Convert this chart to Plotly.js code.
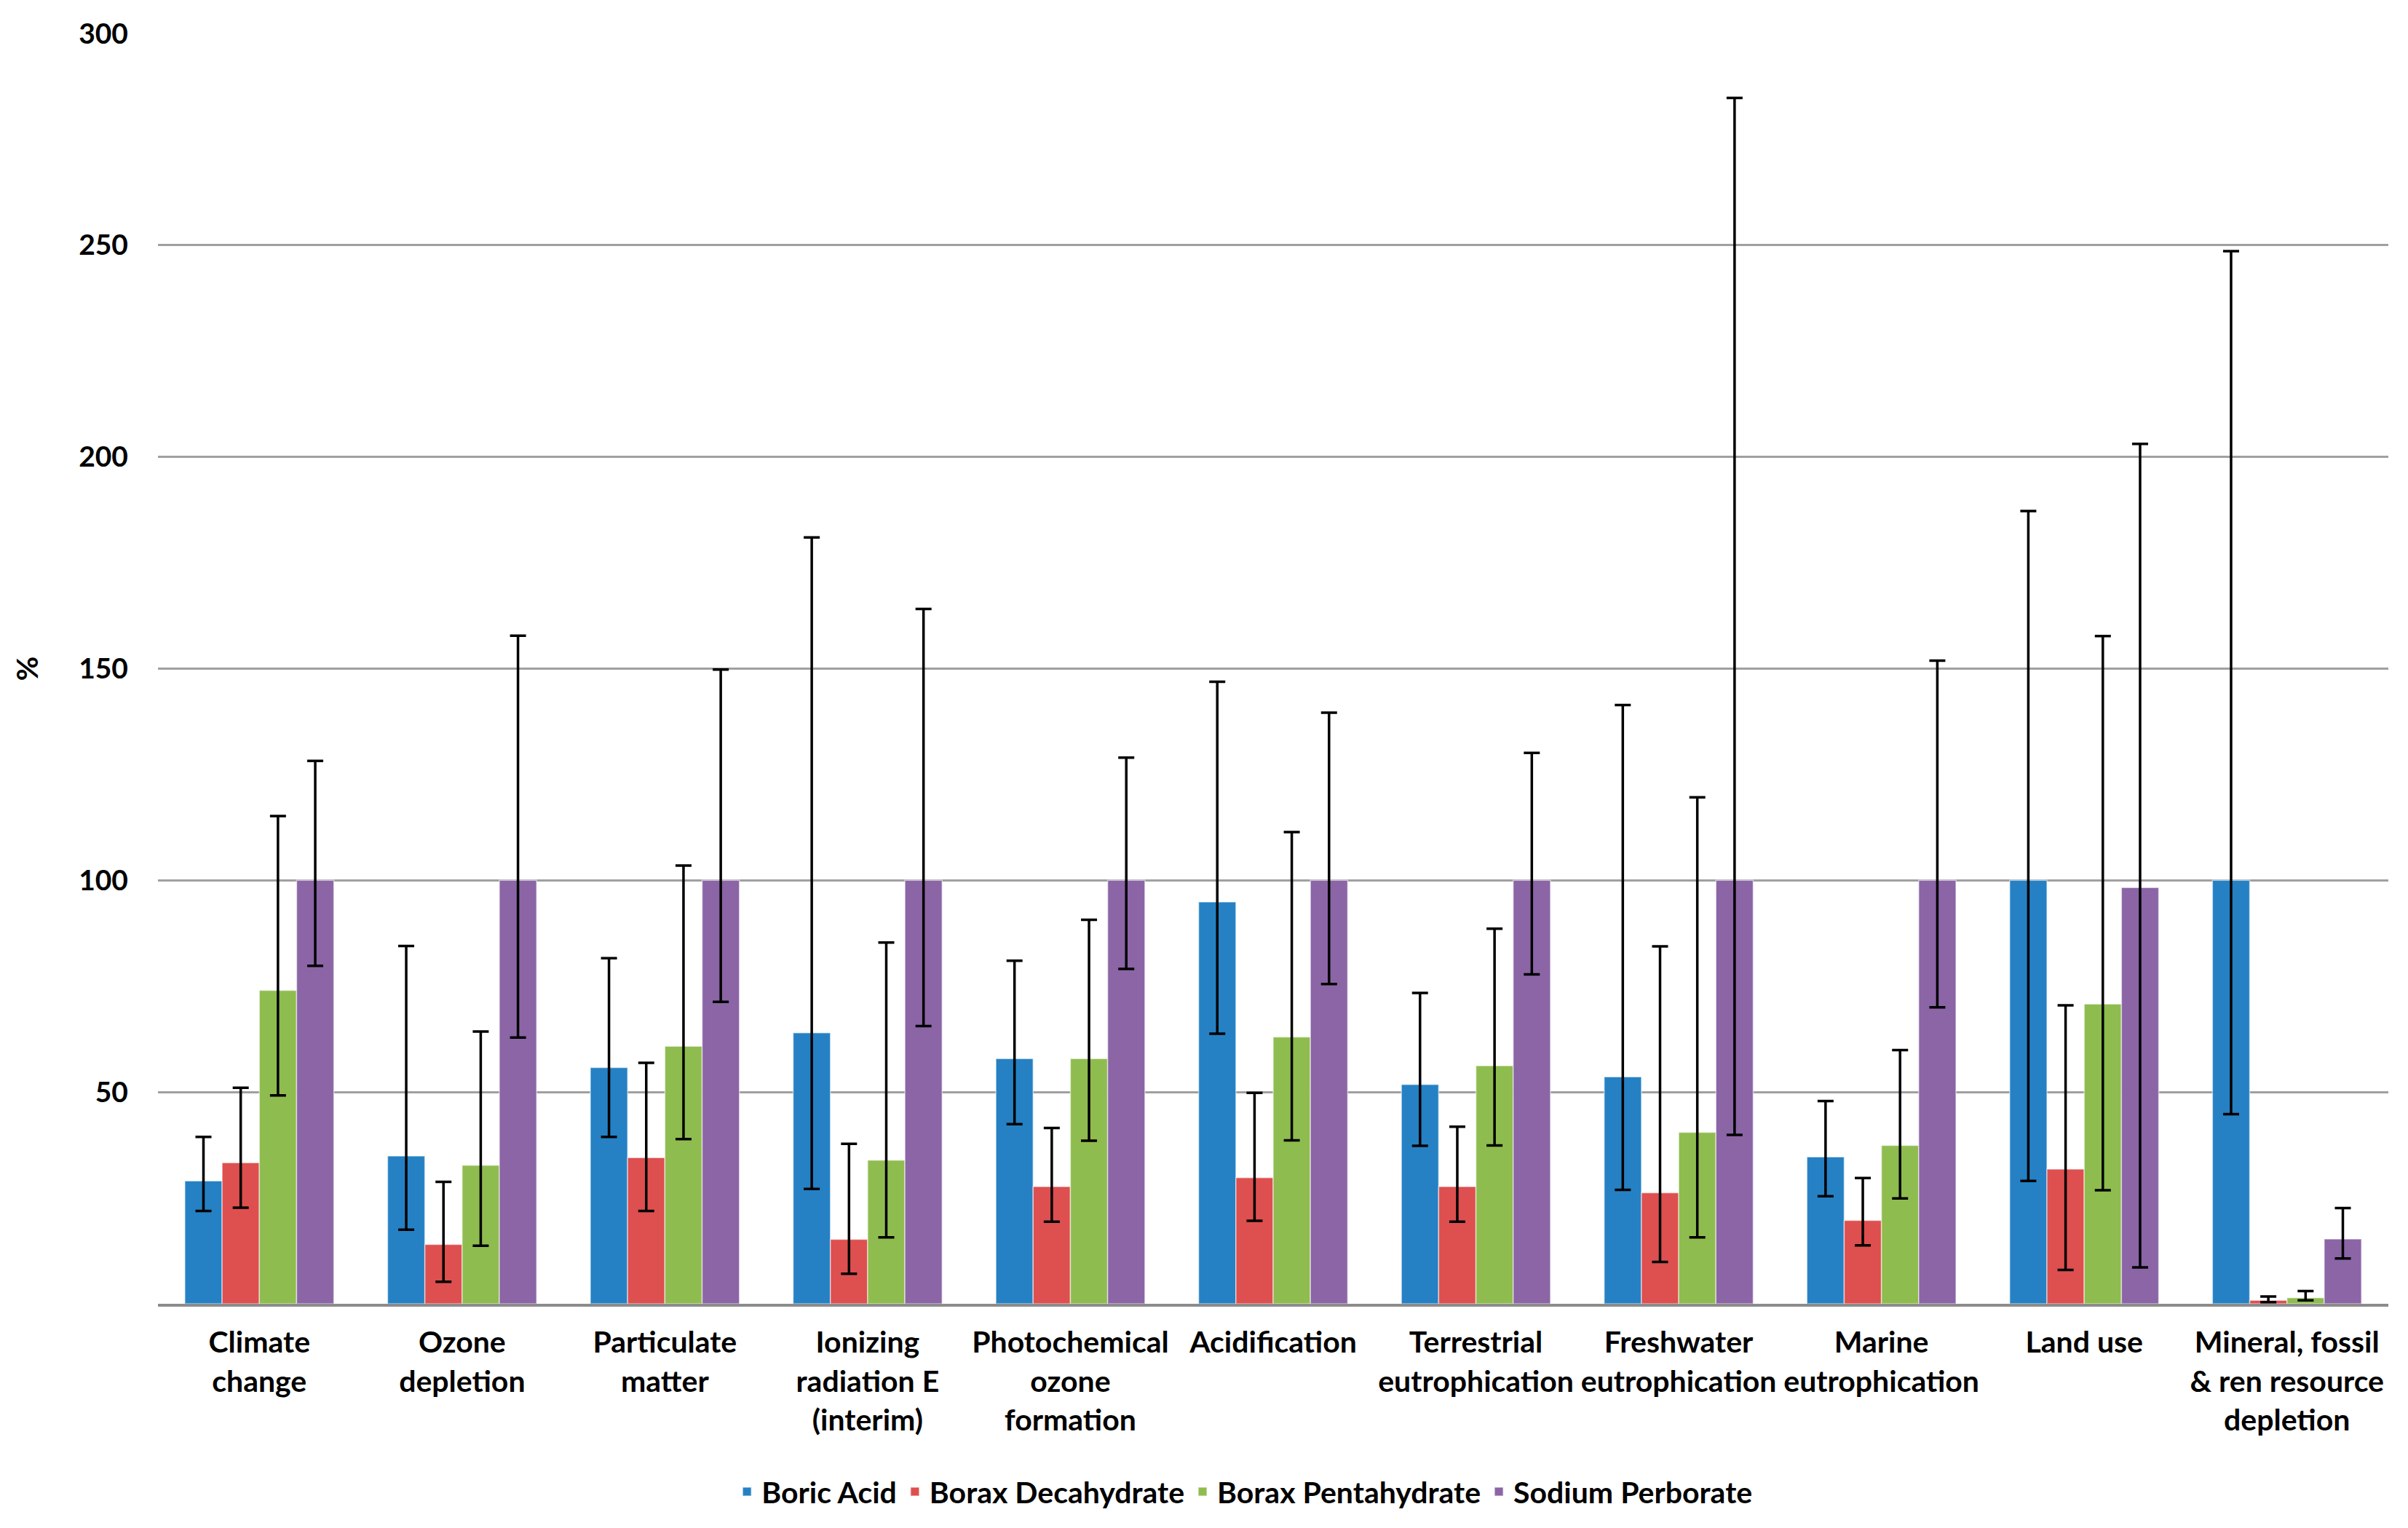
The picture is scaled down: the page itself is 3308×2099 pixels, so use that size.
<!DOCTYPE html>
<html>
<head>
<meta charset="utf-8">
<script src="https://cdn.plot.ly/plotly-3.0.1.min.js"></script>
<style>html,body{margin:0;padding:0;background:#fff;}#chart{width:3308px;height:2099px;}</style>
</head>
<body>
<div id="chart"></div>
<script>
const categories = [
  "Climate<br>change", "Ozone<br>depletion", "Particulate<br>matter",
  "Ionizing<br>radiation E<br>(interim)", "Photochemical<br>ozone<br>formation",
  "Acidification", "Terrestrial<br>eutrophication", "Freshwater<br>eutrophication",
  "Marine<br>eutrophication", "Land use", "Mineral, fossil<br>& ren resource<br>depletion"
];
const seriesNames = ["Boric Acid", "Borax Decahydrate", "Borax Pentahydrate", "Sodium Perborate"];

const boricAcid      = [29.0, 34.9, 55.8, 64.0, 57.9, 94.9, 51.8, 53.6, 34.7, 100, 100];
const boricAcidHigh  = [39.4, 84.5, 81.6, 181.0, 81.0, 146.9, 73.4, 141.4, 47.9, 187.2, 248.6];
const boricAcidLow   = [21.9, 17.5, 39.4, 27.1, 42.4, 63.8, 37.3, 26.9, 25.4, 29.0, 44.8];

const boraxDeca      = [33.3, 14.0, 34.5, 15.2, 27.7, 29.8, 27.7, 26.2, 19.7, 31.8, 0.8];
const boraxDecaHigh  = [51.0, 28.8, 56.9, 37.8, 41.5, 49.8, 41.8, 84.4, 29.7, 70.5, 1.7];
const boraxDecaLow   = [22.7, 5.2, 21.9, 7.1, 19.4, 19.6, 19.4, 9.9, 13.8, 8.0, 0.4];

const boraxPenta     = [74.0, 32.7, 60.8, 33.9, 57.9, 63.0, 56.2, 40.5, 37.4, 70.8, 1.4];
const boraxPentaHigh = [115.2, 64.3, 103.5, 85.3, 90.7, 111.4, 88.6, 119.6, 59.9, 157.7, 3.0];
const boraxPentaLow  = [49.2, 13.7, 38.9, 15.7, 38.5, 38.6, 37.4, 15.7, 24.9, 26.8, 0.8];

const sodiumPerb     = [100, 100, 100, 100, 100, 100, 100, 100, 100, 98.3, 15.3];
const sodiumPerbHigh = [128.2, 157.8, 149.8, 164.1, 129.0, 139.6, 130.1, 284.8, 151.9, 203.1, 22.6];
const sodiumPerbLow  = [79.8, 62.9, 71.3, 65.6, 79.1, 75.5, 77.8, 39.9, 70.0, 8.6, 10.7];

const yTickVals = [0, 50, 100, 150, 200, 250, 300];
const colors = ["#2581c4", "#de4f4f", "#8fbc4f", "#8b65a6"];

const FONT = "Lato, 'Open Sans', sans-serif";

function makeTrace(name, vals, hi, lo, color) {
  return {
    type: "bar",
    name: name,
    x: categories,
    y: vals,
    marker: { color: color, line: { color: "rgba(255,255,255,0.55)", width: 1.5 } },
    error_y: {
      type: "data",
      symmetric: false,
      array: hi.map((h, i) => h - vals[i]),
      arrayminus: lo.map((l, i) => vals[i] - l),
      color: "#000000",
      thickness: 3.5,
      width: 11
    }
  };
}

const data = [
  makeTrace(seriesNames[0], boricAcid, boricAcidHigh, boricAcidLow, colors[0]),
  makeTrace(seriesNames[1], boraxDeca, boraxDecaHigh, boraxDecaLow, colors[1]),
  makeTrace(seriesNames[2], boraxPenta, boraxPentaHigh, boraxPentaLow, colors[2]),
  makeTrace(seriesNames[3], sodiumPerb, sodiumPerbHigh, sodiumPerbLow, colors[3])
];

const layout = {
  width: 3308,
  height: 2099,
  paper_bgcolor: "#ffffff",
  plot_bgcolor: "#ffffff",
  margin: { l: 217, r: 27, t: 46, b: 308 },
  barmode: "group",
  bargap: 0.265,
  bargroupgap: 0,
  font: { family: FONT, size: 41, color: "#000000", weight: "bold" },
  showlegend: true,
  legend: {
    orientation: "h",
    x: 0.487, xanchor: "center",
    y: -0.148, yanchor: "middle",
    font: { family: FONT, size: 41, color: "#000000", weight: "bold" },
    traceorder: "normal",
    itemwidth: 30
  },
  xaxis: {
    type: "category",
    showgrid: false,
    showline: true,
    linecolor: "#8c8c8c",
    linewidth: 4,
    ticks: "",
    tickangle: 0,
    ticklabelstandoff: 14,
    tickfont: { family: FONT, size: 41, color: "#000000", weight: "bold" },
    fixedrange: true
  },
  yaxis: {
    range: [0, 300],
    tickvals: yTickVals,
    ticktext: yTickVals.map(v => v === 0 ? "" : String(v)),
    showgrid: true,
    gridcolor: "#a0a0a0",
    gridwidth: 3,
    zeroline: false,
    showline: false,
    ticks: "",
    ticklabelstandoff: 40,
    tickfont: { family: FONT, size: 39, color: "#000000", weight: "bold" },
    title: { text: "%", standoff: 42, font: { family: FONT, size: 41, color: "#000000", weight: "bold" } },
    fixedrange: true
  }
};

Plotly.newPlot("chart", data, layout, { staticPlot: true, displayModeBar: false });
</script>
</body>
</html>
